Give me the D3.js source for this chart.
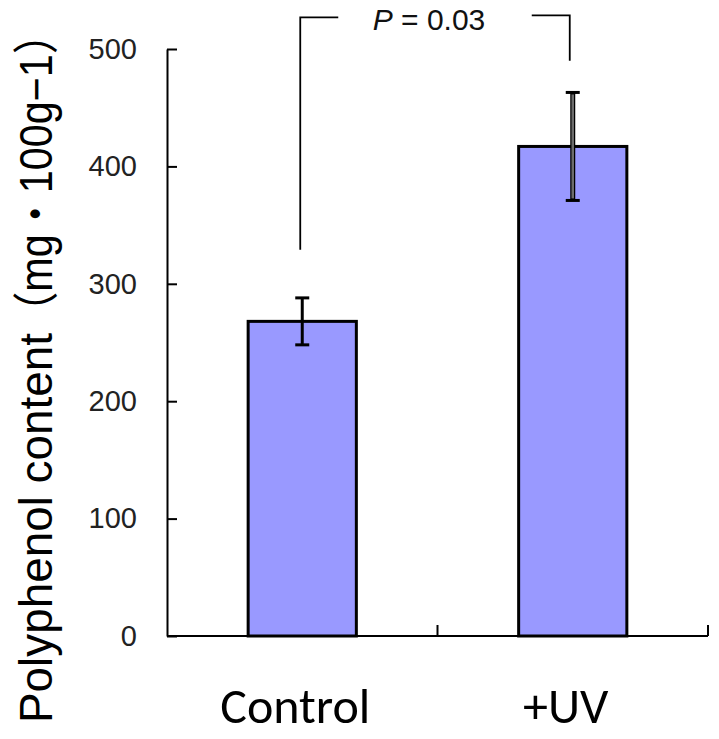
<!DOCTYPE html>
<html>
<head>
<meta charset="utf-8">
<script src="https://cdn.jsdelivr.net/npm/d3@7"></script>
<style>
  body { margin: 0; background: #fff; }
</style>
</head>
<body>
<div id="chart"></div>
<script>
// data
var groups = ["Control", "+UV"];
var means = [268, 417];
var errs = [20, 46];
var yTicks = [0, 100, 200, 300, 400, 500];
// significance bracket ends (data units)
var bracketLeft = 329, bracketRight = 490, bracketTop = 527;
var pLabel = "0.03";

var W = 719, H = 739;

var svg = d3.select("#chart")
  .append("svg")
  .attr("width", W)
  .attr("height", H)
  .style("font-family", "'Liberation Sans', Arial, sans-serif");

var x = d3.scaleBand()
  .domain(groups)
  .range([167, 708])
  .paddingInner(0.6)
  .paddingOuter(0.3);

var y = d3.scaleLinear()
  .domain([0, 500])
  .range([636, 49]);

// y axis, ticks pointing inward
var yAxis = svg.append("g")
  .attr("transform", "translate(" + x.range()[0] + ",0)")
  .call(d3.axisLeft(y).tickValues(yTicks).tickSizeInner(-10).tickSizeOuter(0).tickPadding(30));
yAxis.select(".domain").attr("stroke", "#000").attr("stroke-width", 2);
yAxis.selectAll(".tick line").attr("stroke", "#000").attr("stroke-width", 2);
yAxis.selectAll(".tick text")
  .attr("fill", "#222")
  .style("font-size", "29px")
  .style("font-family", "'Liberation Sans', Arial, sans-serif");

// x axis line
svg.append("line")
  .attr("x1", x.range()[0]).attr("x2", x.range()[1])
  .attr("y1", y(0)).attr("y2", y(0))
  .attr("stroke", "#000").attr("stroke-width", 2);

// category boundary ticks
var gap = (x.step() - x.bandwidth()) / 2;
svg.selectAll(".xtick")
  .data(groups)
  .enter().append("line")
  .attr("class", "xtick")
  .attr("x1", function(d) { return x(d) + x.bandwidth() + gap; })
  .attr("x2", function(d) { return x(d) + x.bandwidth() + gap; })
  .attr("y1", y(0))
  .attr("y2", y(0) - 11)
  .attr("stroke", "#000").attr("stroke-width", 2);

// bars
svg.selectAll(".bar")
  .data(groups)
  .enter().append("rect")
  .attr("class", "bar")
  .attr("x", function(d) { return x(d); })
  .attr("y", function(d, i) { return y(means[i]); })
  .attr("width", x.bandwidth())
  .attr("height", function(d, i) { return y(0) - y(means[i]); })
  .attr("fill", "#9999ff")
  .attr("stroke", "#000")
  .attr("stroke-width", 3);

// error bars
groups.forEach(function(g, i) {
  var cx = x(g) + x.bandwidth() / 2;
  var hi = y(means[i] + errs[i]), lo = y(means[i] - errs[i]);
  svg.append("line")
    .attr("x1", cx).attr("x2", cx).attr("y1", hi).attr("y2", lo)
    .attr("stroke", "#000").attr("stroke-width", i == 0 ? 3 : 5);
  if (i == 1) {
    svg.append("line")
      .attr("x1", cx).attr("x2", cx).attr("y1", hi + 2).attr("y2", lo - 2)
      .attr("stroke", "#888").attr("stroke-width", 2.5).attr("opacity", 0.8);
  }
  [hi, lo].forEach(function(v) {
    svg.append("line")
      .attr("x1", cx - 7).attr("x2", cx + 7).attr("y1", v).attr("y2", v)
      .attr("stroke", "#000").attr("stroke-width", 3);
  });
});

// significance bracket
var lx = x(groups[0]) + x.bandwidth() / 2 - 2;
var rx = x(groups[1]) + x.bandwidth() / 2 - 3;
svg.append("path")
  .attr("d", "M" + lx + "," + y(bracketLeft) + "V" + y(bracketTop) + "H" + (lx + 38))
  .attr("fill", "none").attr("stroke", "#000").attr("stroke-width", 1.8);
svg.append("path")
  .attr("d", "M" + (rx - 38) + "," + (y(bracketTop) - 2) + "H" + rx + "V" + y(bracketRight))
  .attr("fill", "none").attr("stroke", "#000").attr("stroke-width", 1.8);

var pt = svg.append("text")
  .attr("x", (lx + rx) / 2 - 6)
  .attr("y", 30)
  .attr("text-anchor", "middle")
  .style("font-size", "30px")
  .attr("fill", "#111");
pt.append("tspan").style("font-style", "italic").text("P");
pt.append("tspan").text(" = " + pLabel);

// category labels
svg.selectAll(".xlabel")
  .data(groups)
  .enter().append("text")
  .attr("class", "xlabel")
  .attr("x", function(d) { return x(d) + x.bandwidth() / 2 - 7; })
  .attr("y", 723)
  .attr("text-anchor", "middle")
  .style("font-family", "Carlito, 'Open Sans', sans-serif")
  .style("font-size", "50px")
  .attr("fill", "#000")
  .text(function(d) { return d; });

// y axis title
var yt = svg.append("text")
  .attr("transform", "translate(52,723) rotate(-90)")
  .attr("text-anchor", "start")
  .style("font-size", "46px")
  .style("font-family", "'Liberation Sans', 'Noto Sans CJK JP', sans-serif")
  .attr("fill", "#000");
yt.append("tspan")
  .attr("textLength", 390)
  .attr("lengthAdjust", "spacingAndGlyphs")
  .text("Polyphenol content");
yt.append("tspan")
  .attr("textLength", 320)
  .attr("lengthAdjust", "spacingAndGlyphs")
  .text("（mg・100g−1）");
</script>
</body>
</html>
